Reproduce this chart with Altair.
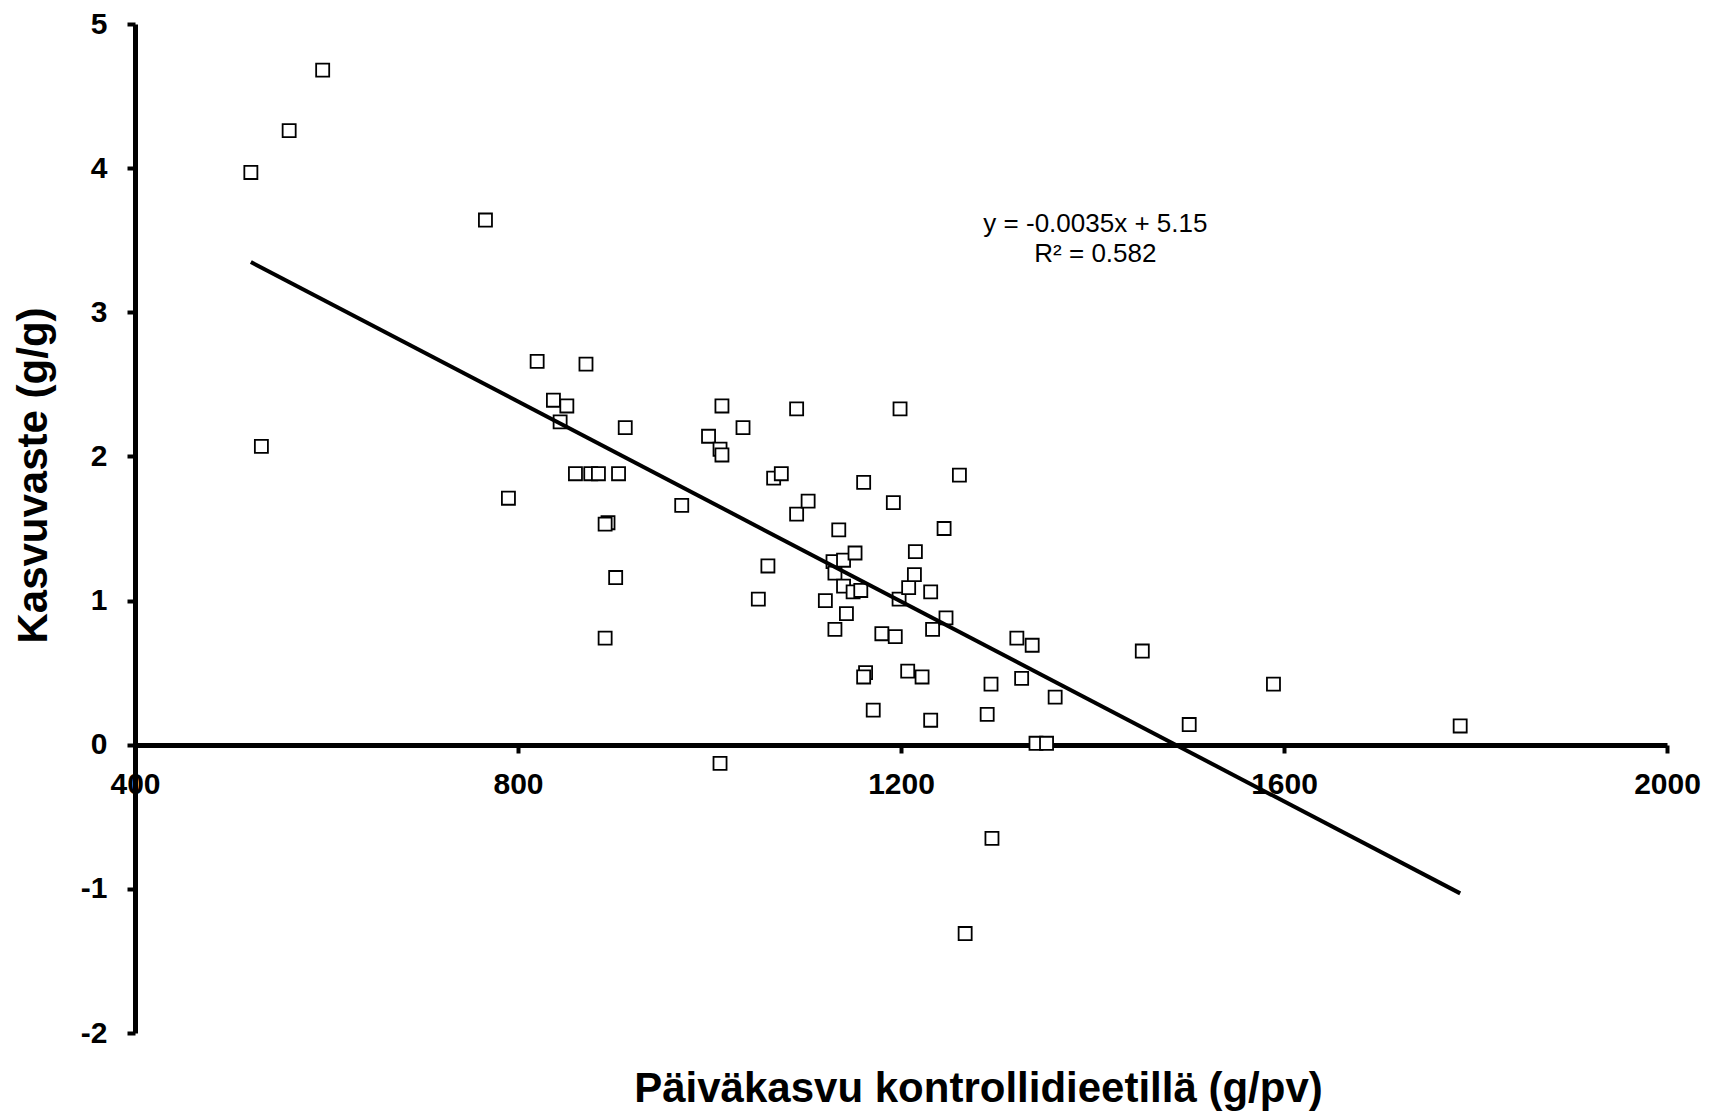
import altair as alt
import pandas as pd

# Päiväkasvu kontrollidieetillä (g/pv)
x_vals = [521, 561, 596, 532, 766, 790, 820, 871, 837, 851,
          844, 860, 876, 884, 905, 912, 894, 891, 902, 891,
          971, 999, 1011, 1013, 1013, 1035, 1011, 1051, 1061, 1067,
          1075, 1091, 1091, 1103, 1121, 1131, 1135, 1129, 1131, 1140,
          1140, 1143, 1152, 1150, 1158, 1161, 1163, 1161, 1171, 1180,
          1194, 1192, 1199, 1198, 1207, 1208, 1214, 1215, 1222, 1231,
          1233, 1231, 1245, 1247, 1261, 1267, 1290, 1294, 1295, 1321,
          1337, 1326, 1341, 1352, 1361, 1452, 1501, 1589, 1784]
# Kasvuvaste (g/g)
y_vals = [3.97, 4.26, 4.68, 2.07, 3.64, 1.71, 2.66, 2.64, 2.39, 2.35,
          2.24, 1.88, 1.88, 1.88, 1.88, 2.20, 1.54, 1.53, 1.16, 0.74,
          1.66, 2.14, 2.05, 2.01, 2.35, 2.20, -0.13, 1.01, 1.24, 1.85,
          1.88, 2.33, 1.60, 1.69, 1.00, 0.80, 1.49, 1.27, 1.19, 1.28,
          1.10, 0.91, 1.33, 1.06, 1.07, 1.82, 0.50, 0.47, 0.24, 0.77,
          0.75, 1.68, 2.33, 1.01, 0.51, 1.09, 1.18, 1.34, 0.47, 1.06,
          0.80, 0.17, 1.50, 0.88, 1.87, -1.31, 0.21, 0.42, -0.65, 0.74,
          0.69, 0.46, 0.01, 0.01, 0.33, 0.65, 0.14, 0.42, 0.13]

x_ticks = [400, 800, 1200, 1600, 2000]
y_ticks = [-2, -1, 0, 1, 2, 3, 4, 5]
eq_lines = ["y = -0.0035x + 5.15", "R² = 0.582"]

x_title = "Päiväkasvu kontrollidieetillä (g/pv)"
y_title = "Kasvuvaste (g/g)"

df = pd.DataFrame({"x": x_vals, "y": y_vals})

FONT = "Liberation Sans"

x_enc = alt.X(
    "x:Q",
    scale=alt.Scale(domain=[400, 2000], nice=False, zero=False),
    axis=alt.Axis(
        values=x_ticks, title=x_title, offset=-288,
        labelExpr="'' + datum.value",
        titleX=843, titleY=343, titleBaseline="middle", titleAlign="center",
        labelFlush=False, labelPadding=16, tickSize=8,
    ),
)
y_enc = alt.Y(
    "y:Q",
    scale=alt.Scale(domain=[-2, 5], nice=False, zero=False),
    axis=alt.Axis(
        values=y_ticks, title=y_title,
        labelExpr="'' + datum.value",
        titleX=-102, titleY=451, titleBaseline="middle", titleAlign="center",
        labelPadding=20, tickSize=8,
    ),
)

base = alt.Chart(df)

points = base.mark_point(
    shape="square", filled=False, fill="white", fillOpacity=1,
    stroke="black", strokeWidth=1.8, size=170, opacity=1,
).encode(x=x_enc, y=y_enc)

trend = base.transform_regression("x", "y", method="linear").mark_line(
    color="black", strokeWidth=4
).encode(x="x:Q", y="y:Q")

eq = alt.Chart(pd.DataFrame({"t": [0]})).mark_text(
    text=eq_lines, font=FONT, fontSize=26, color="black",
    align="center", baseline="middle", lineHeight=30,
).encode(x=alt.datum(1403), y=alt.datum(3.61))

chart = (
    alt.layer(points, trend, eq)
    .properties(
        width=1532, height=1009,
        padding={"left": 127, "top": 16, "right": 40, "bottom": 88},
        autosize=alt.AutoSizeParams(type="none"),
    )
    .configure_view(stroke=None)
    .configure_axis(
        grid=False,
        domainColor="black", domainWidth=5,
        tickColor="black", tickWidth=4,
        labelFont=FONT, labelFontSize=30, labelFontWeight="bold", labelColor="black",
        titleFont=FONT, titleFontSize=42, titleFontWeight="bold", titleColor="black",
        labelOverlap=False,
    )
)

chart.save("out.html", embed_options={"renderer": "svg", "actions": False})
